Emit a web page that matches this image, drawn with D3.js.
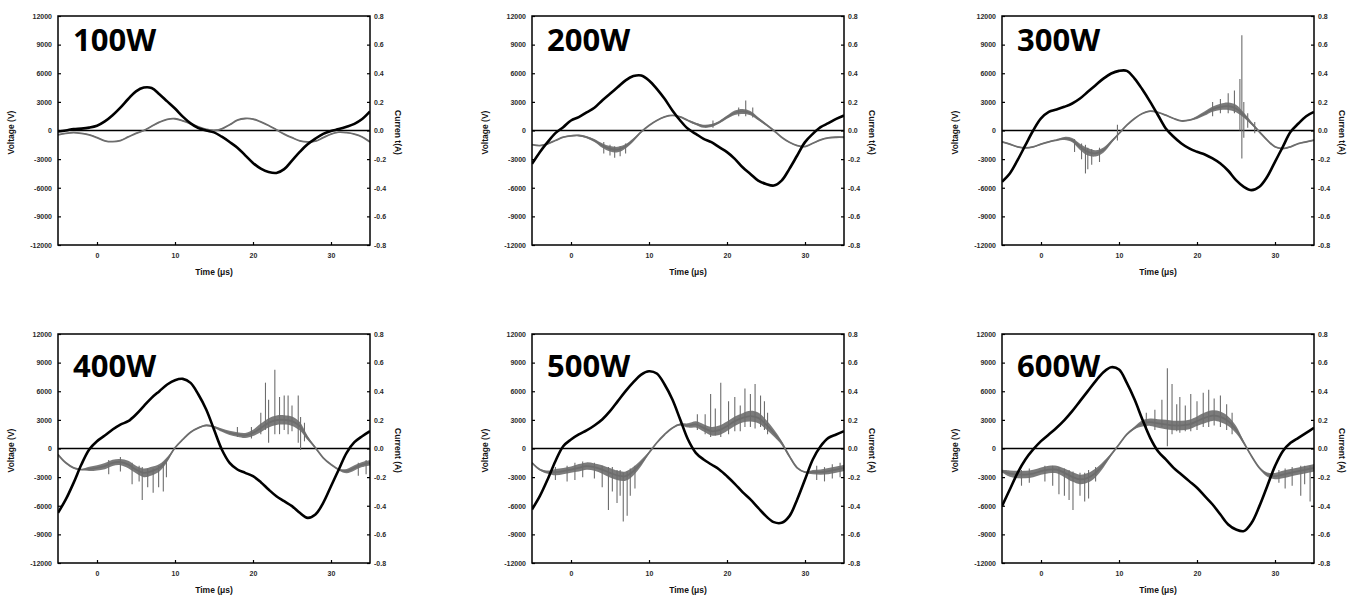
<!DOCTYPE html>
<html>
<head>
<meta charset="utf-8">
<script src="https://cdn.jsdelivr.net/npm/d3@7"></script>
<style>
  html, body { margin: 0; padding: 0; background: #fff; }
  svg { display: block; }
  .tick-label { font-family: "Liberation Sans", Arial, sans-serif; font-size: 7px; font-weight: bold; fill: #2a2a2a; }
  .axis-title { font-family: "Liberation Sans", Arial, sans-serif; font-size: 8.5px; font-weight: bold; fill: #111; }
  .panel-title { font-family: "Open Sans", "Noto Sans", sans-serif; font-size: 31px; font-weight: bold; fill: #000; }
</style>
</head>
<body>
<svg id="chart" width="1361" height="596"></svg>
<script>
// Sample times (µs) shared by every trace
const timeUs = [-5,-4,-3,-2,-1,0,1,2,3,4,5,6,7,8,9,10,11,12,13,14,15,16,17,18,19,20,21,22,23,24,25,26,27,28,29,30,31,32,33,34,35];

// Axis ticks
const timeTicks = [0, 10, 20, 30];
const voltageTicks = [-12000, -9000, -6000, -3000, 0, 3000, 6000, 9000, 12000];
const currentTicks = [-0.8, -0.6, -0.4, -0.2, 0.0, 0.2, 0.4, 0.6, 0.8];

// Input power of each panel
const powerLabels = ["100W", "200W", "300W", "400W", "500W", "600W"];
const currentTitles = ["Curren t(A)", "Curren t(A)", "Curren t(A)", "Current (A)", "Current (A)", "Current (A)"];

// Voltage (V)
const voltage100 = [-100,0,150,200,300,500,950,1600,2400,3300,4100,4500,4450,3800,3050,2300,1450,750,250,0,-200,-650,-1200,-1800,-2600,-3400,-4000,-4350,-4450,-4050,-3150,-2250,-1450,-850,-350,-50,150,400,700,1200,2000];
const voltage200 = [-3500,-2270,-1220,-280,350,1050,1400,1900,2380,3150,3850,4550,5250,5700,5770,5250,4370,3320,2100,1050,175,-350,-870,-1220,-1750,-2270,-2970,-3850,-4550,-5250,-5600,-5770,-5250,-4020,-2620,-1220,-350,350,770,1220,1570];
const voltage300 = [-5370,-4500,-3100,-1540,0,1260,1950,2200,2480,2830,3350,4050,4750,5440,5970,6250,6250,5440,4290,3000,1600,210,-660,-1360,-1880,-2230,-2510,-2930,-3450,-4220,-5200,-5900,-6250,-5900,-4850,-3280,-1710,-140,730,1500,1950];
const voltage400 = [-6740,-5340,-3600,-1680,-100,770,1360,1990,2510,2860,3560,4440,5310,6010,6710,7160,7300,6880,5660,4090,1990,-100,-1500,-2200,-2550,-2900,-3530,-4300,-5000,-5520,-6040,-6740,-7270,-6920,-5690,-3950,-2200,-450,660,1290,1820];
const voltage500 = [-6390,-5000,-3250,-1330,240,940,1470,1890,2410,3040,3910,4960,6010,6950,7750,8100,7860,6710,5130,3040,940,-450,-1150,-1680,-2200,-2900,-3700,-4580,-5340,-6220,-7090,-7720,-7790,-7090,-5340,-3250,-1150,240,1120,1470,1820];
const voltage600 = [-6040,-4300,-2550,-1150,-100,770,1470,2170,2970,3910,4960,6010,7060,8000,8520,8280,6880,5130,3040,1120,-280,-1150,-2030,-2720,-3420,-4120,-5000,-5870,-6920,-7960,-8490,-8660,-7790,-6040,-3950,-1850,-280,590,1120,1640,2170];

// Current (A), mean trace
const current100 = [-0.03,-0.02,-0.015,-0.02,-0.03,-0.05,-0.072,-0.078,-0.07,-0.045,-0.02,0.0,0.03,0.058,0.078,0.082,0.068,0.048,0.025,0.008,0.0,0.012,0.04,0.072,0.084,0.08,0.06,0.035,0.005,-0.025,-0.05,-0.072,-0.08,-0.075,-0.05,-0.025,-0.012,-0.015,-0.025,-0.045,-0.08];
const current200 = [-0.098,-0.105,-0.093,-0.07,-0.047,-0.037,-0.035,-0.047,-0.07,-0.105,-0.128,-0.133,-0.11,-0.065,-0.01,0.035,0.07,0.095,0.105,0.095,0.07,0.047,0.03,0.035,0.058,0.093,0.124,0.133,0.121,0.082,0.042,0.0,-0.047,-0.082,-0.105,-0.112,-0.089,-0.065,-0.051,-0.047,-0.047];
const current300 = [-0.079,-0.095,-0.114,-0.121,-0.114,-0.095,-0.079,-0.067,-0.056,-0.067,-0.114,-0.149,-0.16,-0.137,-0.079,-0.021,0.037,0.084,0.119,0.135,0.126,0.107,0.084,0.067,0.072,0.091,0.119,0.149,0.165,0.17,0.154,0.107,0.049,-0.009,-0.067,-0.114,-0.126,-0.114,-0.091,-0.079,-0.067];
const current400 = [-0.042,-0.10,-0.135,-0.147,-0.142,-0.135,-0.123,-0.10,-0.095,-0.112,-0.147,-0.17,-0.158,-0.135,-0.077,0.005,0.063,0.114,0.144,0.161,0.151,0.128,0.109,0.098,0.091,0.109,0.144,0.179,0.198,0.20,0.191,0.156,0.074,0.005,-0.065,-0.112,-0.147,-0.158,-0.135,-0.112,-0.10];
const current500 = [-0.10,-0.147,-0.165,-0.165,-0.158,-0.147,-0.135,-0.123,-0.13,-0.147,-0.17,-0.189,-0.193,-0.158,-0.10,-0.03,0.04,0.098,0.144,0.168,0.161,0.168,0.144,0.121,0.128,0.156,0.191,0.214,0.226,0.214,0.168,0.109,0.04,-0.054,-0.135,-0.165,-0.165,-0.165,-0.158,-0.147,-0.135];
const current600 = [-0.158,-0.175,-0.182,-0.182,-0.175,-0.158,-0.147,-0.147,-0.17,-0.198,-0.216,-0.205,-0.17,-0.112,-0.042,0.028,0.098,0.144,0.175,0.184,0.175,0.168,0.161,0.161,0.168,0.191,0.214,0.23,0.221,0.191,0.133,0.04,-0.054,-0.135,-0.182,-0.193,-0.182,-0.17,-0.158,-0.147,-0.135];

// Current noise half-amplitude (A) at each sample time
const noise100 = [0.003,0.003,0.003,0.003,0.003,0.003,0.003,0.003,0.003,0.003,0.003,0.003,0.003,0.003,0.003,0.003,0.003,0.003,0.003,0.003,0.003,0.003,0.003,0.003,0.003,0.003,0.003,0.003,0.003,0.003,0.003,0.003,0.003,0.003,0.003,0.003,0.003,0.003,0.003,0.003,0.003];
const noise200 = [0.004,0.004,0.004,0.004,0.004,0.005,0.005,0.007,0.011,0.016,0.019,0.019,0.015,0.011,0.005,0.004,0.004,0.004,0.004,0.004,0.005,0.008,0.011,0.011,0.009,0.011,0.015,0.017,0.015,0.011,0.007,0.004,0.004,0.004,0.004,0.004,0.004,0.004,0.004,0.004,0.004];
const noise300 = [0.004,0.004,0.004,0.004,0.004,0.004,0.004,0.004,0.011,0.015,0.022,0.026,0.022,0.018,0.011,0.004,0.004,0.004,0.004,0.004,0.004,0.004,0.004,0.004,0.004,0.011,0.015,0.018,0.022,0.026,0.026,0.018,0.011,0.007,0.004,0.004,0.004,0.004,0.004,0.004,0.004];
const noise400 = [0.004,0.004,0.004,0.004,0.015,0.018,0.022,0.022,0.022,0.026,0.026,0.03,0.03,0.026,0.018,0.004,0.004,0.004,0.004,0.006,0.007,0.011,0.015,0.016,0.018,0.022,0.03,0.033,0.033,0.033,0.033,0.03,0.015,0.007,0.004,0.004,0.006,0.015,0.018,0.018,0.018];
const noise500 = [0.004,0.006,0.011,0.022,0.022,0.022,0.026,0.026,0.026,0.03,0.033,0.033,0.033,0.03,0.022,0.007,0.004,0.004,0.004,0.007,0.015,0.022,0.026,0.03,0.033,0.033,0.033,0.033,0.037,0.037,0.033,0.026,0.015,0.009,0.006,0.004,0.015,0.018,0.022,0.022,0.022];
const noise600 = [0.009,0.022,0.026,0.026,0.026,0.026,0.026,0.026,0.03,0.033,0.033,0.033,0.03,0.022,0.009,0.006,0.006,0.009,0.022,0.026,0.03,0.033,0.033,0.033,0.033,0.033,0.037,0.037,0.037,0.033,0.026,0.011,0.006,0.006,0.015,0.022,0.026,0.026,0.026,0.026,0.026];

// Isolated current spikes: [time µs, low A, high A]
const spikes100 = [];
const spikes200 = [[4.2,-0.16,-0.08],[5.0,-0.175,-0.1],[5.6,-0.19,-0.11],[6.3,-0.18,-0.11],[7.0,-0.16,-0.09],[18.2,0.02,0.07],[21.5,0.1,0.16],[22.4,0.1,0.21],[23.3,0.09,0.16]];
const spikes300 = [[4.3,-0.15,-0.06],[5.2,-0.2,-0.09],[5.7,-0.30,-0.1],[6.0,-0.27,-0.12],[6.5,-0.24,-0.13],[7.5,-0.22,-0.12],[9.8,-0.07,0.04],[22.0,0.1,0.2],[23.0,0.12,0.22],[24.0,0.12,0.26],[24.8,0.12,0.28],[25.5,0.0,0.36],[25.75,-0.195,0.665],[26.0,-0.05,0.2],[26.5,0.02,0.12],[27.4,-0.02,0.06]];
const spikes400 = [[1.5,-0.18,-0.08],[3.0,-0.16,-0.06],[4.5,-0.25,-0.1],[5.4,-0.23,-0.12],[5.8,-0.36,-0.13],[6.5,-0.27,-0.14],[7.2,-0.31,-0.14],[7.9,-0.27,-0.12],[8.5,-0.30,-0.1],[8.9,-0.2,-0.09],[18.0,0.08,0.15],[19.8,0.07,0.15],[21.0,0.1,0.25],[21.6,0.13,0.46],[22.0,0.04,0.34],[22.8,0.1,0.55],[23.4,0.1,0.36],[24.0,0.13,0.37],[24.5,0.1,0.37],[25.0,0.12,0.3],[25.8,0.04,0.37],[26.1,-0.01,0.22],[26.6,0.05,0.18],[33.5,-0.19,-0.1],[34.5,-0.18,-0.08]];
const spikes500 = [[-2.0,-0.22,-0.13],[-0.5,-0.23,-0.12],[0.5,-0.22,-0.1],[1.5,-0.2,-0.09],[3.0,-0.21,-0.1],[4.0,-0.27,-0.12],[4.8,-0.43,-0.13],[5.3,-0.3,-0.13],[5.9,-0.38,-0.15],[6.3,-0.33,-0.15],[6.7,-0.51,-0.17],[7.2,-0.47,-0.16],[7.6,-0.33,-0.14],[8.2,-0.28,-0.12],[16.2,0.13,0.24],[17.2,0.1,0.24],[17.9,0.08,0.38],[18.5,0.09,0.28],[19.2,0.08,0.46],[20.2,0.1,0.33],[21.0,0.12,0.36],[21.7,0.12,0.3],[22.3,0.15,0.42],[23.0,0.15,0.38],[23.6,0.14,0.45],[24.3,0.15,0.37],[24.8,0.13,0.33],[25.2,0.1,0.25],[31.5,-0.22,-0.12],[32.5,-0.23,-0.13],[33.5,-0.21,-0.11],[34.5,-0.2,-0.1]];
const spikes600 = [[-2.5,-0.26,-0.15],[-1.5,-0.24,-0.14],[0.5,-0.23,-0.12],[1.5,-0.26,-0.12],[2.3,-0.32,-0.13],[3.0,-0.33,-0.14],[3.6,-0.36,-0.15],[4.1,-0.43,-0.16],[5.0,-0.33,-0.17],[5.6,-0.37,-0.17],[6.1,-0.35,-0.15],[7.0,-0.23,-0.13],[13.5,0.14,0.25],[14.6,0.13,0.27],[15.5,0.15,0.34],[16.2,0.016,0.56],[16.8,0.1,0.45],[17.4,0.12,0.31],[17.8,0.11,0.36],[18.5,0.12,0.3],[19.2,0.12,0.38],[20.0,0.13,0.33],[20.8,0.15,0.39],[21.5,0.15,0.41],[22.2,0.16,0.35],[23.0,0.15,0.37],[23.8,0.13,0.31],[24.5,0.1,0.25],[30.5,-0.24,-0.15],[31.3,-0.28,-0.14],[32.2,-0.26,-0.13],[33.3,-0.33,-0.12],[33.8,-0.25,-0.12],[34.5,-0.37,-0.12]];

const panels = [
  { label: powerLabels[0], cTitle: currentTitles[0], voltage: voltage100, current: current100, noise: noise100, spikes: spikes100 },
  { label: powerLabels[1], cTitle: currentTitles[1], voltage: voltage200, current: current200, noise: noise200, spikes: spikes200 },
  { label: powerLabels[2], cTitle: currentTitles[2], voltage: voltage300, current: current300, noise: noise300, spikes: spikes300 },
  { label: powerLabels[3], cTitle: currentTitles[3], voltage: voltage400, current: current400, noise: noise400, spikes: spikes400 },
  { label: powerLabels[4], cTitle: currentTitles[4], voltage: voltage500, current: current500, noise: noise500, spikes: spikes500 },
  { label: powerLabels[5], cTitle: currentTitles[5], voltage: voltage600, current: current600, noise: noise600, spikes: spikes600 }
];

// Grid layout of the six plot frames
const colLeft = [58, 532, 1002];
const rowTop = [16, 334];
const plotW = 312, plotH = 229;
const titleOffset = [35, 43];

const svg = d3.select("#chart");
const greyTrace = "#6d6d6d";
const smooth = d3.curveCatmullRom.alpha(0.5);

panels.forEach((p, i) => {
  const col = i % 3, row = Math.floor(i / 3);
  const g = svg.append("g").attr("transform", `translate(${colLeft[col]},${rowTop[row]})`);

  const x = d3.scaleLinear().domain([-5, 35]).range([0, plotW]);
  const yV = d3.scaleLinear().domain([-12000, 12000]).range([plotH, 0]);
  const yC = d3.scaleLinear().domain([-0.8, 0.8]).range([plotH, 0]);

  const clipId = "clip" + i;
  g.append("clipPath").attr("id", clipId)
    .append("rect").attr("width", plotW).attr("height", plotH);

  const plot = g.append("g").attr("clip-path", `url(#${clipId})`);

  // zero reference line
  plot.append("line")
    .attr("x1", 0).attr("x2", plotW)
    .attr("y1", yV(0)).attr("y2", yV(0))
    .attr("stroke", "#000").attr("stroke-width", 1.4);

  const rows = timeUs.map((t, k) => ({ t, v: p.voltage[k], c: p.current[k], n: p.noise[k] }));

  // current noise band
  plot.append("path")
    .datum(rows)
    .attr("d", d3.area()
      .x(d => x(d.t))
      .y0(d => yC(d.c - d.n))
      .y1(d => yC(d.c + d.n))
      .curve(smooth))
    .attr("fill", greyTrace).attr("opacity", 0.9);

  // current spikes
  plot.selectAll("line.spike")
    .data(p.spikes)
    .join("line")
    .attr("class", "spike")
    .attr("x1", d => x(d[0])).attr("x2", d => x(d[0]))
    .attr("y1", d => yC(d[1])).attr("y2", d => yC(d[2]))
    .attr("stroke", greyTrace).attr("stroke-width", 1.1);

  // current trace
  plot.append("path")
    .datum(rows)
    .attr("d", d3.line().x(d => x(d.t)).y(d => yC(d.c)).curve(smooth))
    .attr("fill", "none").attr("stroke", greyTrace).attr("stroke-width", 1.8);

  // voltage trace
  plot.append("path")
    .datum(rows)
    .attr("d", d3.line().x(d => x(d.t)).y(d => yV(d.v)).curve(smooth))
    .attr("fill", "none").attr("stroke", "#000").attr("stroke-width", 2.6);

  // axes (ticks point inward)
  const axL = g.append("g").call(d3.axisLeft(yV).tickValues(voltageTicks).tickSize(-3).tickPadding(6).tickFormat(d => String(d)));
  const axR = g.append("g").attr("transform", `translate(${plotW},0)`)
    .call(d3.axisRight(yC).tickValues(currentTicks).tickSize(-3).tickPadding(4).tickFormat(d => d.toFixed(1)));
  const axB = g.append("g").attr("transform", `translate(0,${plotH})`)
    .call(d3.axisBottom(x).tickValues(timeTicks).tickSize(-3).tickPadding(8).tickFormat(d => String(d)));

  [axL, axR, axB].forEach(ax => {
    ax.select(".domain").remove();
    ax.selectAll(".tick line").attr("stroke", "#000").attr("stroke-width", 1.2);
    ax.selectAll(".tick text").attr("class", "tick-label").attr("fill", null);
  });

  // frame
  g.append("rect")
    .attr("width", plotW).attr("height", plotH)
    .attr("fill", "none").attr("stroke", "#000").attr("stroke-width", 1.5);

  // axis titles
  g.append("text").attr("class", "axis-title")
    .attr("transform", `translate(${-44},${plotH / 2 + 2}) rotate(-90)`)
    .attr("text-anchor", "middle").text("Voltage (V)");
  g.append("text").attr("class", "axis-title")
    .attr("transform", `translate(${plotW + 25},${plotH / 2 + 2}) rotate(90)`)
    .attr("text-anchor", "middle").text(p.cTitle);
  g.append("text").attr("class", "axis-title")
    .attr("x", plotW / 2).attr("y", plotH + 30)
    .attr("text-anchor", "middle").text("Time (μs)");

  // power label
  g.append("text").attr("class", "panel-title")
    .attr("x", 15).attr("y", titleOffset[row])
    .text(p.label);
});
</script>
</body>
</html>
